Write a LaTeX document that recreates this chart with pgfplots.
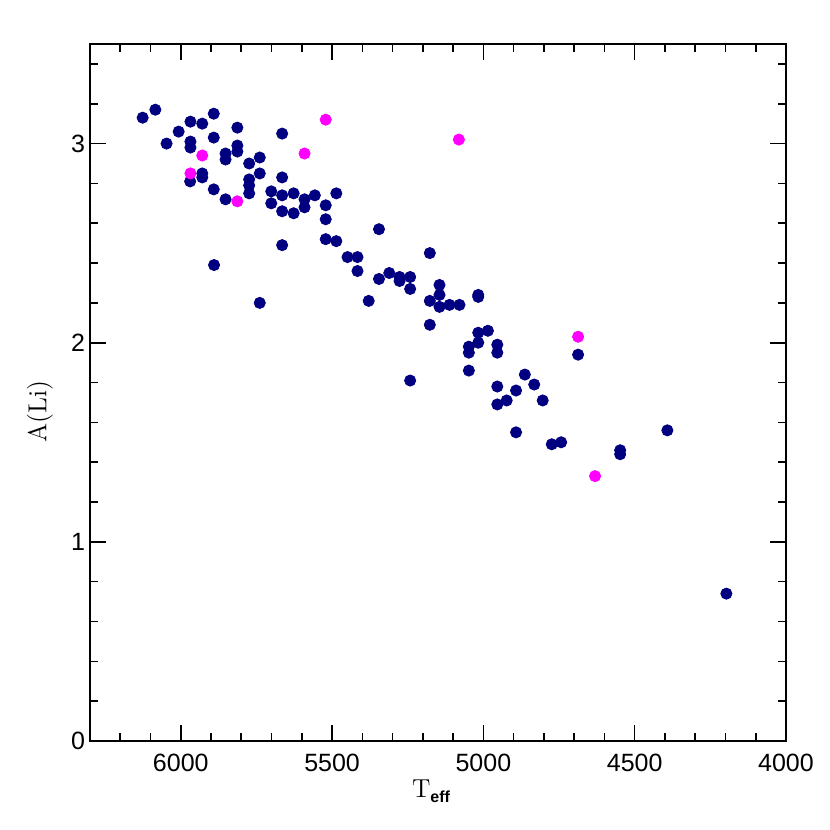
\documentclass[border=0pt]{standalone}
\usepackage{fontspec}
\usepackage{pgfplots}
\pgfplotsset{compat=1.18}
\newfontfamily\tickfont{Liberation Sans}
\definecolor{navyc}{RGB}{0,0,128}
\definecolor{magc}{RGB}{255,0,255}
\begin{document}
\begin{tikzpicture}
\begin{axis}[
  at={(0,0)}, anchor=south west,
  scale only axis, width=348pt, height=348.5pt,
  x dir=reverse, xmin=4000, xmax=6300, ymin=0, ymax=3.5,
  xtick={4000,4500,5000,5500,6000},
  minor xtick={4100,4200,4300,4400,4600,4700,4800,4900,5100,5200,5300,5400,5600,5700,5800,5900,6100,6200},
  ytick={0,1,2,3},
  minor ytick={0.2,0.4,0.6,0.8,1.2,1.4,1.6,1.8,2.2,2.4,2.6,2.8,3.2,3.4},
  tick align=inside,
  major tick length=8pt, minor tick length=4pt,
  every tick/.style={black, line width=0.8pt},
  axis line style={line width=0.9pt},
  /pgf/number format/assume math mode=true,
  /pgf/number format/set thousands separator={},
  tick label style={font=\tickfont\fontsize{12.5}{15}\selectfont},
  xticklabel shift=3pt,
  yticklabel shift=-1pt,
  xlabel={T\raisebox{-0.45ex}{\tickfont\bfseries\fontsize{8}{9}\selectfont eff}},
  ylabel={A(Li)},
  label style={font=\fontsize{13}{15}\selectfont},
  xlabel style={at={(axis description cs:0.49,-0.072)}, anchor=center},
  ylabel style={at={(axis description cs:-0.072,0.473)}, anchor=center, rotate=0},
  clip=false,
]
\addplot[only marks, mark=*, mark size=2.8pt, navyc, mark options={draw=navyc, fill=navyc}] table {
T A
6126 3.13
6084 3.17
6047 3.00
6007 3.06
5968 3.11
5968 3.01
5968 2.98
5929 3.10
5891 3.15
5891 3.03
5813 3.08
5852 2.95
5852 2.92
5813 2.99
5813 2.96
5774 2.90
5739 2.93
5739 2.85
5665 3.05
5665 2.83
5969 2.81
5929 2.85
5929 2.83
5891 2.77
5852 2.72
5774 2.82
5774 2.79
5774 2.75
5701 2.76
5701 2.70
5665 2.74
5665 2.66
5627 2.75
5627 2.65
5591 2.72
5591 2.68
5557 2.74
5521 2.69
5521 2.62
5521 2.52
5486 2.75
5486 2.51
5665 2.49
5449 2.43
5416 2.43
5416 2.36
5890 2.39
5739 2.20
5345 2.57
5177 2.45
5345 2.32
5311 2.35
5277 2.33
5277 2.31
5242 2.33
5242 2.27
5379 2.21
5177 2.21
5145 2.29
5145 2.24
5145 2.18
5112 2.19
5079 2.19
5017 2.24
5017 2.23
5177 2.09
5017 2.05
4985 2.06
5017 2.00
5048 1.98
5048 1.95
4954 1.99
4954 1.95
5242 1.81
5048 1.86
4863 1.84
4832 1.79
4954 1.78
4892 1.76
4923 1.71
4954 1.69
4804 1.71
4892 1.55
4774 1.49
4743 1.50
4548 1.46
4548 1.44
4392 1.56
4687 1.94
4197 0.74
};
\addplot[only marks, mark=*, mark size=2.8pt, magc, mark options={draw=magc, fill=magc}] table {
T A
5521 3.12
5929 2.94
5968 2.85
5813 2.71
5591 2.95
5081 3.02
4687 2.03
4631 1.33
};
\end{axis}
\path[use as bounding box] (-45pt,-44.5pt) rectangle (370pt,370.5pt);
\end{tikzpicture}
\end{document}
